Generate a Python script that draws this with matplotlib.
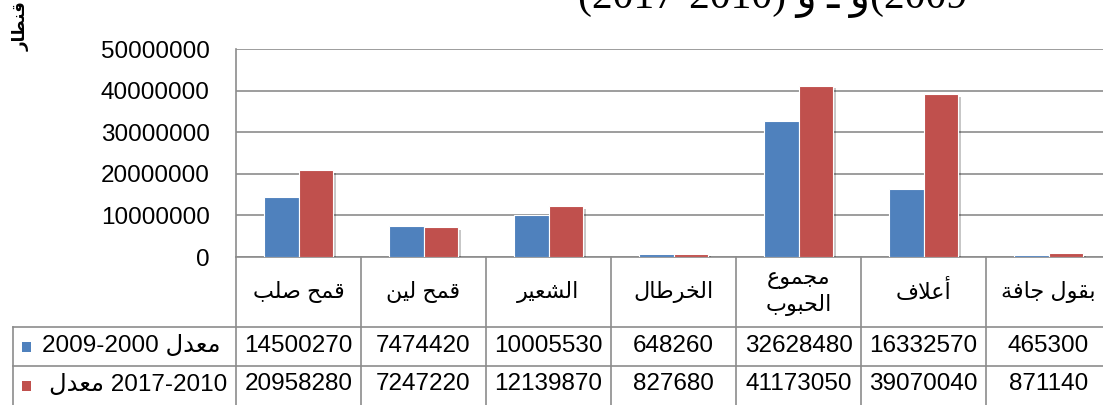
import matplotlib
matplotlib.use("Agg")
import matplotlib.pyplot as plt
import matplotlib.patheffects as pe
from matplotlib.patches import Rectangle

# ---------------- data ----------------
categories = ["قمح صلب", "قمح لين", "الشعير", "الخرطال", "مجموع\nالحبوب", "أعلاف", "بقول جافة"]
series1_values = [14500270, 7474420, 10005530, 648260, 32628480, 16332570, 465300]
series2_values = [20958280, 7247220, 12139870, 827680, 41173050, 39070040, 871140]
yticks = [0, 10000000, 20000000, 30000000, 40000000, 50000000]
ylabel = "قنطار"
avg_word = "معدل"
period1 = "2009-2000"
period2 = "2017-2010"

# ---------------- simple Arabic shaping ----------------
FORMS = {
    'ا': ('\uFE8D', '\uFE8E', None, None),
    'أ': ('\uFE83', '\uFE84', None, None),
    'ب': ('\uFE8F', '\uFE90', '\uFE91', '\uFE92'),
    'ة': ('\uFE93', '\uFE94', None, None),
    'ج': ('\uFE9D', '\uFE9E', '\uFE9F', '\uFEA0'),
    'ح': ('\uFEA1', '\uFEA2', '\uFEA3', '\uFEA4'),
    'خ': ('\uFEA5', '\uFEA6', '\uFEA7', '\uFEA8'),
    'د': ('\uFEA9', '\uFEAA', None, None),
    'ر': ('\uFEAD', '\uFEAE', None, None),
    'ش': ('\uFEB5', '\uFEB6', '\uFEB7', '\uFEB8'),
    'ص': ('\uFEB9', '\uFEBA', '\uFEBB', '\uFEBC'),
    'ط': ('\uFEC1', '\uFEC2', '\uFEC3', '\uFEC4'),
    'ع': ('\uFEC9', '\uFECA', '\uFECB', '\uFECC'),
    'ف': ('\uFED1', '\uFED2', '\uFED3', '\uFED4'),
    'ق': ('\uFED5', '\uFED6', '\uFED7', '\uFED8'),
    'ل': ('\uFEDD', '\uFEDE', '\uFEDF', '\uFEE0'),
    'م': ('\uFEE1', '\uFEE2', '\uFEE3', '\uFEE4'),
    'ن': ('\uFEE5', '\uFEE6', '\uFEE7', '\uFEE8'),
    'و': ('\uFEED', '\uFEEE', None, None),
    'ي': ('\uFEF1', '\uFEF2', '\uFEF3', '\uFEF4'),
}
LAM_ALEF = {'ا': ('\uFEFB', '\uFEFC'), 'أ': ('\uFEF7', '\uFEF8')}


def _jl(c):
    f = FORMS.get(c)
    return f is not None and f[2] is not None


def _shape_line(text):
    ch = list(text)
    n = len(ch)
    out = []
    i = 0
    while i < n:
        c = ch[i]
        if c not in FORMS:
            out.append(c)
            i += 1
            continue
        prev = ch[i - 1] if i > 0 else None
        cp = prev is not None and _jl(prev)
        if c == 'ل' and i + 1 < n and ch[i + 1] in LAM_ALEF:
            out.append(LAM_ALEF[ch[i + 1]][1 if cp else 0])
            i += 2
            continue
        nxt = ch[i + 1] if i + 1 < n else None
        cn = nxt is not None and _jl(c) and nxt in FORMS
        f = FORMS[c]
        out.append(f[3] if cp and cn else f[1] if cp else f[2] if cn else f[0])
        i += 1
    return ''.join(reversed(out))


def shape(text):
    return '\n'.join(_shape_line(t) for t in text.split('\n'))


# ---------------- figure ----------------
W, H = 1103, 405
fig = plt.figure(figsize=(W / 100, H / 100), dpi=100)
FONT = ['Liberation Sans', 'DejaVu Sans']
plt.rcParams['font.family'] = FONT
GRID = '#8c8c8c'
BLUE = '#4F81BD'
RED = '#C0504D'
FS = 17.5

ax_left, ax_right = 236, 1111
ax_bottom, ax_top = H - 257, H - 49
ax = fig.add_axes([ax_left / W, ax_bottom / H, (ax_right - ax_left) / W, (ax_top - ax_bottom) / H])
n = len(categories)
x = list(range(n))
bw = 0.276
shadow = [pe.withSimplePatchShadow(offset=(2, -2), shadow_rgbFace='k', alpha=0.22)]
b1 = ax.bar([i - bw / 2 for i in x], series1_values, bw, color=BLUE, edgecolor='white', linewidth=0.8, zorder=3)
b2 = ax.bar([i + bw / 2 for i in x], series2_values, bw, color=RED, edgecolor='white', linewidth=0.8, zorder=3)
for b in list(b1) + list(b2):
    b.set_path_effects(shadow)
ax.set_xlim(-0.5, n - 0.5)
ax.set_ylim(0, yticks[-1])
ax.set_yticks(yticks)
ax.set_yticklabels([str(v) for v in yticks], fontsize=FS, family=FONT)
ax.set_xticks([])
ax.tick_params(axis='y', length=0, pad=19)
ax.yaxis.grid(True, color=GRID, linewidth=1.2, zorder=0)
ax.set_axisbelow(True)
for s in ['top', 'right']:
    ax.spines[s].set_visible(False)
for s in ['left', 'bottom']:
    ax.spines[s].set_color(GRID)
    ax.spines[s].set_linewidth(1.2)

# ---------------- data table ----------------
tab = fig.add_axes([ax_left / W, 0, (ax_right - ax_left) / W, ax_bottom / H])
tab.set_xlim(-0.5, n - 0.5)
tab.set_ylim(0, ax_bottom)
tab.axis('off')
row1_top = H - 327
row2_top = H - 366
leg_left = -0.5 - (ax_left - 13) / 125.0
lk = dict(color=GRID, linewidth=1.2, clip_on=False)
for k in range(n + 1):
    tab.plot([-0.5 + k, -0.5 + k], [-5, ax_bottom], **lk)
tab.plot([leg_left, leg_left], [-5, row1_top], **lk)
for yy in (row1_top, row2_top):
    tab.plot([leg_left, n - 0.5], [yy, yy], **lk)

hdr_y = (ax_bottom + row1_top) / 2
r1_y = (row1_top + row2_top) / 2 + 1
r2_y = row2_top / 2 + 1
for i, c in enumerate(categories):
    tab.text(i, hdr_y, shape(c), ha='center', va='center', fontsize=16,
             family=FONT, linespacing=1.25)
    tab.text(i, r1_y, str(series1_values[i]), ha='center', va='center', fontsize=FS, family=FONT)
    tab.text(i, r2_y, str(series2_values[i]), ha='center', va='center', fontsize=FS, family=FONT)

# legend cells (figure pixel coordinates)
fig.patches.append(Rectangle((22 / W, (H - 352) / H), 9 / W, 10 / H, transform=fig.transFigure,
                             facecolor=BLUE, edgecolor='none'))
fig.patches.append(Rectangle((22 / W, (H - 391) / H), 9 / W, 10 / H, transform=fig.transFigure,
                             facecolor=RED, edgecolor='none'))
fig.text(42 / W, (H - 346) / H, period1 + " " + shape(avg_word), ha='left', va='center',
         fontsize=17.5, family=FONT)
fig.text(49 / W, (H - 385) / H, shape(avg_word) + " " + period2, ha='left', va='center',
         fontsize=17.5, family=FONT)

# y-axis unit label (rotated)
fig.text(21 / W, (H - 26) / H, shape(ylabel), rotation=90, ha='center', va='center',
         fontsize=12, fontweight='bold', family=['DejaVu Sans'])

# title (cut off at the top of the image)
title_visual = "(" + period2 + ") " + shape("و") + " ـ " + shape("و") + "(2009"
fig.text(578 / W, (H - 8) / H, title_visual, ha='left', va='baseline', fontsize=30,
         family=['Liberation Serif', 'DejaVu Sans'])

fig.savefig("out.png", dpi=100)
